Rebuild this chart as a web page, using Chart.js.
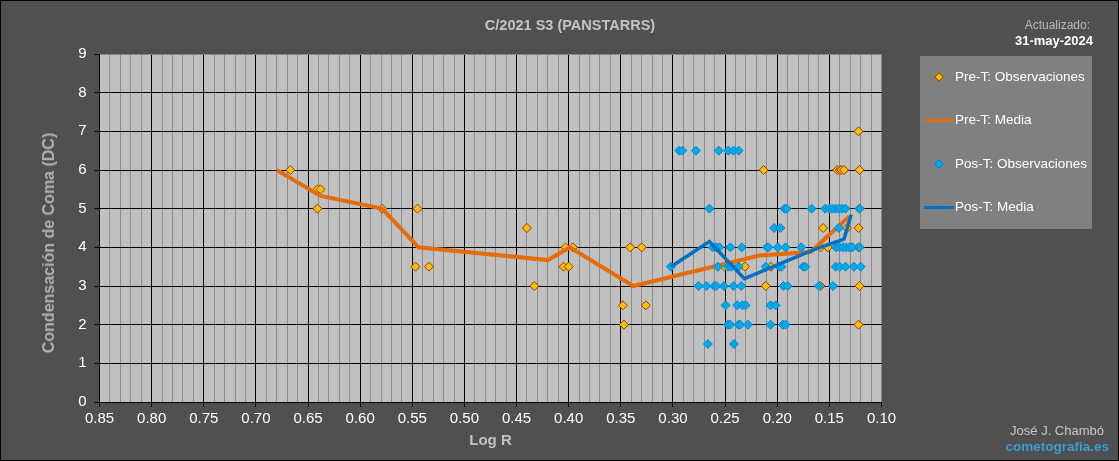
<!DOCTYPE html>
<html>
<head>
<meta charset="utf-8">
<script src="https://cdn.jsdelivr.net/npm/chart.js@4.4.1/dist/chart.umd.min.js"></script>
<style>
    body { margin: 0; background: #505050; font-family: 'Liberation Sans', Arial, sans-serif; }
    #wrap { position: relative; width: 1119px; height: 461px; overflow: hidden; }
    #wrap canvas { position: absolute; left: 0; top: 0; }
    .frame { position: absolute; left: 0; top: 0; width: 1119px; height: 461px; box-sizing: border-box; border: 1px solid #000; pointer-events: none; }
    .txt { position: absolute; white-space: nowrap; }
    #title { left: 0; width: 1140px; top: 16px; text-align: center; font-weight: bold; font-size: 14.5px; line-height: 18px; color: #c4c4c4; }
    #updLabel { right: 29px; top: 17px; font-size: 12px; line-height: 16px; color: #b8b8b8; }
    #updDate { right: 26px; top: 33px; font-size: 13px; line-height: 16px; color: #fff; font-weight: bold; }
    #yTitle { left: 49px; top: 243px; transform: translate(-50%, -50%) rotate(-90deg); font-weight: bold; font-size: 16px; line-height: 20px; color: #b0b0b0; }
    #author { right: 15px; top: 423px; font-size: 13px; line-height: 16px; color: #c8c8c8; }
    #site { right: 10px; top: 439px; font-size: 13.5px; line-height: 16px; color: #3a9ad2; font-weight: bold; }
    #legend { position: absolute; left: 920px; top: 56px; width: 172px; height: 173px; background: #808080; }
    .item { position: absolute; left: 35px; font-size: 13.5px; line-height: 16px; color: #fff; white-space: nowrap; }
    .mark { position: absolute; width: 5px; height: 5px; transform: translate(-50%, -50%) rotate(45deg); }
    .bar { position: absolute; left: 4px; width: 30px; height: 3px; }
</style>
</head>
<body>
<div id="wrap">
    <canvas id="cometChart" width="1119" height="461"></canvas>
    <div class="txt" id="title">C/2021 S3 (PANSTARRS)</div>
    <div class="txt" id="updLabel">Actualizado:</div>
    <div class="txt" id="updDate">31-may-2024</div>
    <div class="txt" id="yTitle">Condensación de Coma (DC)</div>
    <div class="txt" id="author">José J. Chambó</div>
    <div class="txt" id="site">cometografia.es</div>
    <div id="legend">
        <div class="mark" style="left:19px; top:21px; background:#FFC000; border:1px solid #9a3a00;"></div>
        <div class="item" style="top:13px;" id="lg0"></div>
        <div class="bar" style="top:63px; background:#E46C0A;"></div>
        <div class="item" style="top:56px;" id="lg1"></div>
        <div class="mark" style="left:19px; top:108px; background:#00AAEB; border:1px solid #0a86c8;"></div>
        <div class="item" style="top:100px;" id="lg2"></div>
        <div class="bar" style="top:150px; background:#0070C0;"></div>
        <div class="item" style="top:143px;" id="lg3"></div>
    </div>
    <div class="frame"></div>
</div>
<script>
// Series names
const seriesNames = ['Pre-T: Observaciones', 'Pre-T: Media', 'Pos-T: Observaciones', 'Pos-T: Media'];

// Pre-T observations (log r, DC)
const preObsX = [0.667, 0.641, 0.638, 0.641, 0.579, 0.545, 0.547, 0.534, 0.440, 0.433,
    0.403, 0.396, 0.405, 0.400, 0.341, 0.330, 0.348, 0.347, 0.326,
    0.122, 0.213, 0.1425, 0.140, 0.1385, 0.136, 0.121, 0.121,
    0.156, 0.133, 0.122, 0.1585, 0.1515, 0.128, 0.122,
    0.2505, 0.231, 0.206, 0.211, 0.1585, 0.121, 0.122];
const preObsY = [6, 5.5, 5.5, 5, 5, 5, 3.5, 3.5, 4.5, 3,
    4, 4, 3.5, 3.5, 4, 4, 2.5, 2, 2.5,
    7, 6, 6, 6, 6, 6, 6, 5,
    4.5, 4.5, 4.5, 4, 4, 4, 4,
    3.5, 3.5, 3.5, 3, 3, 3, 2];

// Pre-T mean line
const preMeanX = [0.680, 0.638, 0.579, 0.544, 0.420, 0.399, 0.338, 0.217, 0.168, 0.131];
const preMeanY = [6.0, 5.33, 5.0, 4.0, 3.67, 4.0, 3.0, 3.79, 3.88, 4.8];

// Pos-T observations (log r, DC)
const posObsX = [0.294, 0.291, 0.278, 0.256, 0.247, 0.242, 0.237,
    0.265, 0.193, 0.191, 0.167, 0.154, 0.150, 0.147, 0.144, 0.141, 0.138, 0.1345, 0.121,
    0.203, 0.197, 0.141,
    0.262, 0.2585, 0.2555, 0.245, 0.234, 0.2095, 0.2085, 0.1995, 0.192, 0.177, 0.1436, 0.1404, 0.137, 0.134, 0.131, 0.128, 0.121,
    0.302, 0.257, 0.2473, 0.2441, 0.237, 0.211, 0.198, 0.196, 0.175, 0.173, 0.144, 0.140, 0.1345, 0.1265, 0.120,
    0.2754, 0.268, 0.2604, 0.2585, 0.2511, 0.2419, 0.2345, 0.194, 0.190, 0.160, 0.1466,
    0.2495, 0.2383, 0.2335, 0.2304, 0.2064, 0.2016,
    0.2473, 0.2451, 0.2371, 0.2355, 0.2281, 0.2064, 0.1946, 0.192,
    0.2665, 0.2415];
const posObsY = [6.5, 6.5, 6.5, 6.5, 6.5, 6.5, 6.5,
    5, 5, 5, 5, 5, 5, 5, 5, 5, 5, 5, 5,
    4.5, 4.5, 4.5,
    4, 4, 4, 4, 4, 4, 4, 4, 4, 4, 4, 4, 4, 4, 4, 4, 4,
    3.5, 3.5, 3.5, 3.5, 3.5, 3.5, 3.5, 3.5, 3.5, 3.5, 3.5, 3.5, 3.5, 3.5, 3.5,
    3, 3, 3, 3, 3, 3, 3, 3, 3, 3, 3,
    2.5, 2.5, 2.5, 2.5, 2.5, 2.5,
    2, 2, 2, 2, 2, 2, 2, 2,
    1.5, 1.5];

// Pos-T mean line
const posMeanX = [0.302, 0.265, 0.2315, 0.166, 0.136, 0.129];
const posMeanY = [3.5, 4.15, 3.19, 3.93, 4.21, 4.85];

// Axis ticks
const xMajorTicks = [0.85, 0.80, 0.75, 0.70, 0.65, 0.60, 0.55, 0.50, 0.45, 0.40, 0.35, 0.30, 0.25, 0.20, 0.15, 0.10];
const yTicks = [0, 1, 2, 3, 4, 5, 6, 7, 8, 9];

const toPoints = (xs, ys) => xs.map((x, i) => ({ x: x, y: ys[i] }));
const isMajorX = v => xMajorTicks.some(t => Math.abs(t - v) < 1e-6);

seriesNames.forEach((name, i) => { document.getElementById('lg' + i).textContent = name; });

// grey plot area
const plotBackground = {
    id: 'plotBackground',
    beforeDraw(chart) {
        const { ctx, chartArea } = chart;
        ctx.save();
        ctx.fillStyle = '#C0C0C0';
        ctx.fillRect(chartArea.left, chartArea.top, chartArea.right - chartArea.left, chartArea.bottom - chartArea.top);
        ctx.restore();
    }
};

const tickFont = { family: "'Liberation Sans', Arial, sans-serif", size: 15 };

new Chart(document.getElementById('cometChart'), {
    type: 'scatter',
    data: {
        datasets: [{
            label: seriesNames[0],
            data: toPoints(preObsX, preObsY),
            pointStyle: 'rectRot',
            pointRadius: 4.5,
            backgroundColor: '#FFC000',
            borderColor: '#9a3a00',
            borderWidth: 1,
            order: 4
        }, {
            label: seriesNames[1],
            data: toPoints(preMeanX, preMeanY),
            showLine: true,
            pointRadius: 0,
            borderColor: '#E46C0A',
            borderWidth: 4,
            order: 3
        }, {
            label: seriesNames[2],
            data: toPoints(posObsX, posObsY),
            pointStyle: 'rectRot',
            pointRadius: 4.5,
            backgroundColor: '#00AAEB',
            borderColor: '#0a86c8',
            borderWidth: 1,
            order: 2
        }, {
            label: seriesNames[3],
            data: toPoints(posMeanX, posMeanY),
            showLine: true,
            pointRadius: 0,
            borderColor: '#0070C0',
            borderWidth: 3.5,
            order: 1
        }]
    },
    options: {
        responsive: false,
        animation: false,
        layout: {
            padding: { top: 54, right: 237.5, left: 0, bottom: 0 }
        },
        plugins: {
            legend: { display: false },
            tooltip: { enabled: false }
        },
        scales: {
            x: {
                type: 'linear',
                reverse: true,
                min: 0.10,
                max: 0.85,
                afterBuildTicks: function(scale) {
                    const ticks = [];
                    for (let i = 10; i <= 85; i++) ticks.push({ value: i / 100 });
                    scale.ticks = ticks;
                },
                afterFit: function(scale) {
                    scale.height = 59;
                    scale.paddingLeft = 0;
                    scale.paddingRight = 0;
                },
                ticks: {
                    autoSkip: false,
                    maxRotation: 0,
                    minRotation: 0,
                    padding: 3,
                    color: '#ffffff',
                    font: tickFont,
                    callback: function(value) {
                        return isMajorX(value) ? value.toFixed(2) : '';
                    }
                },
                grid: {
                    color: function(ctx) {
                        if (!ctx.tick) return '#000';
                        if (Math.abs(ctx.tick.value - 0.10) < 1e-6) return '#8a8a8a';
                        return isMajorX(ctx.tick.value) ? '#000000' : '#8c8c8c';
                    },
                    tickColor: function(ctx) {
                        return ctx.tick && isMajorX(ctx.tick.value) ? '#000000' : 'rgba(0,0,0,0)';
                    },
                    tickLength: 5,
                    lineWidth: 1
                },
                border: { color: '#000000', width: 1 },
                title: {
                    display: true,
                    text: 'Log R',
                    color: '#c0c0c0',
                    font: { family: "'Liberation Sans', Arial, sans-serif", size: 15, weight: 'bold' },
                    padding: { top: 0, bottom: 11 }
                }
            },
            y: {
                min: 0,
                max: 9,
                afterBuildTicks: function(scale) {
                    scale.ticks = yTicks.map(v => ({ value: v }));
                },
                afterFit: function(scale) {
                    scale.width = 99.5;
                    scale.paddingTop = 0;
                    scale.paddingBottom = 0;
                },
                ticks: {
                    padding: 8,
                    color: '#ffffff',
                    font: tickFont
                },
                grid: {
                    color: function(ctx) {
                        return ctx.tick && ctx.tick.value === 9 ? '#8a8a8a' : '#000000';
                    },
                    tickColor: '#000000',
                    tickLength: 5,
                    lineWidth: 1
                },
                border: { color: '#000000', width: 1 }
            }
        }
    },
    plugins: [plotBackground]
});
</script>
</body>
</html>
